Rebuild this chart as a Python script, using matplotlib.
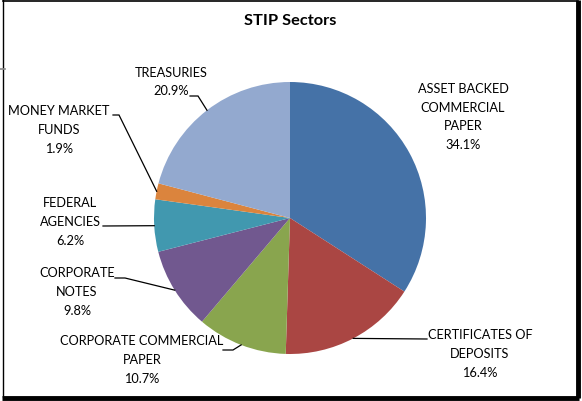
import numpy as np
import matplotlib
matplotlib.use("Agg")
import matplotlib.pyplot as plt

# STIP sector allocation, clockwise from 12 o'clock
sectors = [
    "ASSET BACKED\nCOMMERCIAL\nPAPER",
    "CERTIFICATES OF\nDEPOSITS",
    "CORPORATE COMMERCIAL\nPAPER",
    "CORPORATE\nNOTES",
    "FEDERAL\nAGENCIES",
    "MONEY MARKET\nFUNDS",
    "TREASURIES",
]
shares = [34.1, 16.4, 10.7, 9.8, 6.2, 1.9, 20.9]
colors = ["#4572A7", "#AA4643", "#89A54E", "#71588F", "#4198AF", "#DB843D", "#93A9CF"]

W, H = 582, 401
plt.rcParams["font.family"] = ["Lato", "DejaVu Sans"]


def px(x, y):
    # pixel position measured from the top-left corner -> data coords
    return x, H - y


# label block centres and leader elbows, in pixels from the top-left
label_pos = [(463, 117), (480, 354), (142, 360), (77, 292), (70, 222), (59, 130), (171, 82)]
leader_elbows = [
    None,
    [(427, 339)],
    [(223, 350), (233, 350)],
    [(115, 278), (125, 278)],
    [(103, 226)],
    [(113, 115), (119, 115)],
    [(190, 96), (198, 96)],
]

fig = plt.figure(figsize=(W / 100, H / 100), dpi=100)
ax = fig.add_axes([0, 0, 1, 1])

cx, cy = px(290, 218)
radius = 136
wedges, _ = ax.pie(
    shares,
    colors=colors,
    startangle=90,
    counterclock=False,
    center=(cx, cy),
    radius=radius,
    wedgeprops=dict(linewidth=0),
)

for wedge, name, pct, pos, elbow in zip(wedges, sectors, shares, label_pos, leader_elbows):
    ax.text(*px(*pos), f"{name}\n{pct:.1f}%", ha="center", va="center",
            fontsize=9.2, linespacing=1.66, color="black")
    if elbow is None:
        continue
    mid = np.deg2rad((wedge.theta1 + wedge.theta2) / 2)
    end = (cx + radius * np.cos(mid), cy + radius * np.sin(mid))
    pts = [px(*p) for p in elbow] + [end]
    xs, ys = zip(*pts)
    ax.plot(xs, ys, color="black", lw=0.9, solid_joinstyle="miter")

ax.text(*px(290, 21), "STIP Sectors", ha="center", va="center",
        fontsize=11.8, fontweight="bold", color="black")

# chart border with a heavier right/bottom edge
ax.plot([2.5, 2.5], [H, H - 397], color="black", lw=1)
ax.plot([2.5, 577.5], [H - 0.5, H - 0.5], color="black", lw=1.2)
ax.plot([577.5, 577.5], [H, H - 398], color="black", lw=3.5, solid_capstyle="butt")
ax.plot([2, 579], [H - 397.5, H - 397.5], color="black", lw=3.5, solid_capstyle="butt")
ax.plot([0, 5], [H - 69, H - 69], color="#888888", lw=1.2)

ax.set_xlim(0, W)
ax.set_ylim(0, H)
ax.set_aspect("equal")
ax.axis("off")

fig.savefig("out.png", dpi=100)
